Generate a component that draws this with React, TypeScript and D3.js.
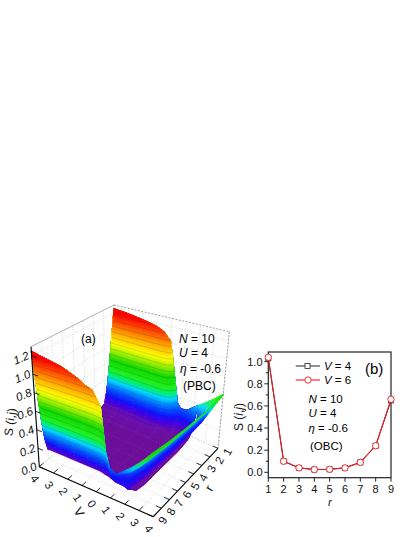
import React from "react";
import * as d3 from "d3";

// panel (a): S(V, r) surface
const vGrid = [-4, -3, -2, -1, -0.5, 0, 0.25, 0.5, 0.75, 1, 1.5, 2.24];
const rGrid = [1, 1.25, 1.5, 1.75, 2, 3, 4, 5, 6, 7, 8, 8.25, 8.5, 8.75, 9];
const sGrid = [
  [1.25, 0.85, 0.5, 0.24, 0.1, 0.05, 0.03, 0.03, 0.03, 0.05, 0.1, 0.24, 0.5, 0.85, 1.25],
  [1.23, 0.83, 0.49, 0.24, 0.1, 0.05, 0.03, 0.03, 0.03, 0.05, 0.1, 0.24, 0.49, 0.82, 1.21],
  [1.2, 0.81, 0.47, 0.23, 0.1, 0.05, 0.03, 0.03, 0.03, 0.05, 0.1, 0.23, 0.47, 0.79, 1.17],
  [1.16, 0.78, 0.45, 0.22, 0.1, 0.05, 0.03, 0.03, 0.03, 0.05, 0.1, 0.22, 0.44, 0.75, 1.1],
  [1.12, 0.75, 0.43, 0.21, 0.1, 0.05, 0.03, 0.03, 0.03, 0.05, 0.1, 0.21, 0.43, 0.72, 1.05],
  [1.03, 0.7, 0.41, 0.2, 0.09, 0.05, 0.03, 0.03, 0.03, 0.05, 0.09, 0.2, 0.4, 0.68, 1.02],
  [0.8, 0.56, 0.34, 0.18, 0.08, 0.04, 0.03, 0.03, 0.03, 0.04, 0.08, 0.18, 0.34, 0.58, 0.95],
  [0.55, 0.4, 0.27, 0.15, 0.07, 0.04, 0.03, 0.03, 0.03, 0.04, 0.07, 0.14, 0.26, 0.5, 0.88],
  [0.33, 0.26, 0.18, 0.12, 0.06, 0.04, 0.03, 0.03, 0.03, 0.04, 0.06, 0.1, 0.16, 0.28, 0.45],
  [0.27, 0.2, 0.14, 0.09, 0.06, 0.04, 0.03, 0.03, 0.03, 0.04, 0.06, 0.09, 0.12, 0.18, 0.3],
  [0.28, 0.2, 0.13, 0.09, 0.06, 0.04, 0.03, 0.03, 0.03, 0.04, 0.06, 0.09, 0.12, 0.16, 0.22],
  [0.38, 0.25, 0.14, 0.09, 0.07, 0.05, 0.05, 0.05, 0.05, 0.05, 0.07, 0.09, 0.12, 0.14, 0.16],
];

// the rising rim at large V: top edge and lower edge, station by station
const rimTopV = [0.9, 1.44, 2.56, 3.3, 4, 4, 4, 4, 4];
const rimTopR = [9, 9, 9, 9, 9, 7, 5, 3, 1];
const rimTopS = [0.3, 0.26, 0.39, 0.49, 0.6, 0.58, 0.57, 0.57, 0.6];
const rimLowV = [0.9, 1.2, 2.24, 2.3, 2.35, 2.4, 2.5, 2.56, 4];
const rimLowR = [9, 9, 9, 8, 7, 5, 2.6, 1, 1];
const rimLowS = [0.3, 0.19, 0.16, 0.14, 0.13, 0.13, 0.16, 0.19, 0.6];

// the r = 1 edge beyond the end of the grid
const backTopV = [2.24, 2.56, 4];
const backTopS = [0.38, 0.42, 0.6];
const backLowV = [2.24, 2.56, 4];
const backLowS = [0.19, 0.19, 0.6];

const colorS = [0, 0.08, 0.14, 0.2, 0.3, 0.38, 0.44, 0.5, 0.62, 0.72, 0.82, 0.95, 1.08, 1.2];
const colorC = ["#6f0c8c", "#6a10a8", "#4a00e0", "#1010ff", "#0070ff", "#00d8ff", "#00f070", "#20f020", "#10d800", "#90ee00", "#ffff00", "#ffb000", "#ff5000", "#ff0000"];

const vTicks = [-4, -3, -2, -1, 0, 1, 2, 3, 4];
const rTicks = [1, 2, 3, 4, 5, 6, 7, 8, 9];
const sTicks = [0, 0.2, 0.4, 0.6, 0.8, 1.0, 1.2];

// panel (b)
const rValues = [1, 2, 3, 4, 5, 6, 7, 8, 9];
const sV4 = [1.03, 0.1, 0.04, 0.025, 0.027, 0.04, 0.09, 0.24, 0.65];
const sV6 = [1.04, 0.1, 0.04, 0.025, 0.027, 0.04, 0.09, 0.24, 0.66];
const yTicksB = [0, 0.2, 0.4, 0.6, 0.8, 1.0];

const FONT = "'Liberation Sans', Arial, sans-serif";

type Pt = [number, number];
const lerp = (a: number, b: number, t: number) => a + (b - a) * t;
const lerpPt = (a: Pt, b: Pt, t: number): Pt => [lerp(a[0], b[0], t), lerp(a[1], b[1], t)];

// box corners in page pixels
const floorA: Pt = [39.3, 466.7];
const floorB: Pt = [153.3, 516.7];
const floorC: Pt = [218, 448.3];
const floorD: Pt = [114, 403.3];
const topA: Pt = [31, 346.7];
const topB: Pt = [151.7, 378.3];
const topC: Pt = [229.3, 331.7];
const topD: Pt = [114, 305];

const tV = d3.scaleLinear().domain([-4, 4]).range([0, 1]);
const uR = d3.scaleLinear().domain([9, 1]).range([0, 1]);
const zS = d3.scaleLinear().domain([0, 1.3]).range([0, 1]);

const project = (v: number, r: number, s: number): Pt => {
  const t = tV(v);
  const u = uR(r);
  const fl = lerpPt(lerpPt(floorA, floorB, t), lerpPt(floorD, floorC, t), u);
  const tp = lerpPt(lerpPt(topA, topB, t), lerpPt(topD, topC, t), u);
  return lerpPt(fl, tp, zS(s));
};

const color = d3.scaleLinear<string>().domain(colorS).range(colorC).interpolate(d3.interpolateRgb).clamp(true);

const nr = rGrid.length;
const nv = vGrid.length;
const rOfIndex = d3.scaleLinear().domain(d3.range(nr)).range(rGrid).clamp(true);
const vOfIndex = d3.scaleLinear().domain(d3.range(nv)).range(vGrid).clamp(true);
const flat = sGrid.flat();

const toPage = (p: number[], level: number): Pt =>
  project(vOfIndex(p[1] - 0.5), rOfIndex(p[0] - 0.5), level);

const sampleS = (x: number, y: number) => {
  const i = Math.max(0, Math.min(nr - 1, x - 0.5));
  const j = Math.max(0, Math.min(nv - 1, y - 0.5));
  const i0 = Math.min(nr - 2, Math.floor(i));
  const j0 = Math.min(nv - 2, Math.floor(j));
  const a = lerp(sGrid[j0][i0], sGrid[j0][i0 + 1], i - i0);
  const b = lerp(sGrid[j0 + 1][i0], sGrid[j0 + 1][i0 + 1], i - i0);
  return lerp(a, b, j - j0);
};

const fillLevels = d3.range(0.0, 1.3, 0.015);
const lineLevels = d3.range(0.12, 1.3, 0.07);
const contourGen = d3.contours().size([nr, nv]).smooth(true);

const ptsToPath = (pts: Pt[]) => "M" + pts.map((p) => p[0].toFixed(2) + "," + p[1].toFixed(2)).join("L") + "Z";

const fillBands = contourGen.thresholds([-1, ...fillLevels])(flat).map((c) => {
  const d = c.coordinates
    .map((poly) =>
      poly
        .map((ring) => ptsToPath(ring.map((p) => project(vOfIndex(p[1] - 0.5), rOfIndex(p[0] - 0.5), sampleS(p[0], p[1])))))
        .join("")
    )
    .join("");
  return { value: c.value, d };
});

const lineBands = contourGen.thresholds(lineLevels)(flat).map((c) => {
  let d = "";
  c.coordinates.forEach((poly) =>
    poly.forEach((ring) => {
      for (let k = 1; k < ring.length; k++) {
        const a = ring[k - 1];
        const b = ring[k];
        const inside = (p: number[]) => p[0] > 0 && p[0] < nr && p[1] > 0 && p[1] < nv;
        if (inside(a) && inside(b)) {
          const pa = toPage(a, c.value);
          const pb = toPage(b, c.value);
          d += `M${pa[0].toFixed(2)},${pa[1].toFixed(2)}L${pb[0].toFixed(2)},${pb[1].toFixed(2)}`;
        }
      }
    })
  );
  return { value: c.value, d };
});

// colour across the rim, from top edge (0) to lower edge (1), as share of the S drop
const rimEase = d3.scaleLinear().domain([0, 0.22, 0.3, 0.55, 1]).range([1, 0.85, 0.4, 0.2, 0]);

const patchQuads = (
  topPts: { v: number; r: number; s: number }[],
  lowPts: { v: number; r: number; s: number }[],
  ease: (f: number) => number,
  nBands: number,
  nSub: number
) => {
  const out: { d: string; fill: string }[] = [];
  for (let j = 1; j < topPts.length; j++) {
    for (let q = 0; q < nSub; q++) {
      const a0 = q / nSub;
      const a1 = (q + 1) / nSub;
      const atStation = (a: number) => {
        const t0 = project(lerp(topPts[j - 1].v, topPts[j].v, a), lerp(topPts[j - 1].r, topPts[j].r, a), lerp(topPts[j - 1].s, topPts[j].s, a));
        const l0 = project(lerp(lowPts[j - 1].v, lowPts[j].v, a), lerp(lowPts[j - 1].r, lowPts[j].r, a), lerp(lowPts[j - 1].s, lowPts[j].s, a));
        return { t0, l0, top: lerp(topPts[j - 1].s, topPts[j].s, a), low: lerp(lowPts[j - 1].s, lowPts[j].s, a) };
      };
      const A = atStation(a0);
      const B = atStation(a1);
      for (let k = 0; k < nBands; k++) {
        const f0 = k / nBands;
        const f1 = (k + 1) / nBands;
        const s = lerp(lerp(A.low, B.low, 0.5), lerp(A.top, B.top, 0.5), ease((f0 + f1) / 2));
        out.push({
          d: ptsToPath([lerpPt(A.t0, A.l0, f0), lerpPt(B.t0, B.l0, f0), lerpPt(B.t0, B.l0, f1), lerpPt(A.t0, A.l0, f1)]),
          fill: color(s),
        });
      }
    }
  }
  return out;
};

const backQuads = patchQuads(
  backTopV.map((v, i) => ({ v, r: 1, s: backTopS[i] })),
  backLowV.map((v, i) => ({ v, r: 1, s: backLowS[i] })),
  (f) => 1 - f,
  12,
  6
);
const rimQuads = patchQuads(
  rimTopV.map((v, i) => ({ v, r: rimTopR[i], s: rimTopS[i] })),
  rimLowV.map((v, i) => ({ v, r: rimLowR[i], s: rimLowS[i] })),
  (f) => rimEase(f),
  22,
  6
);

const line3 = (a: Pt, b: Pt) => `M${a[0]},${a[1]}L${b[0]},${b[1]}`;

// speckled mesh on the surface, along the whole-number grid lines
const meshPath = () => {
  let d = "";
  const wholeR = rGrid.map((r, i) => (Number.isInteger(r) ? i : -1)).filter((i) => i >= 0);
  wholeR.forEach((i) => {
    d += "M" + vGrid.map((v, j) => project(v, rGrid[i], sGrid[j][i]).map((n) => n.toFixed(2)).join(",")).join("L");
  });
  vGrid.forEach((v, j) => {
    if (!Number.isInteger(v)) return;
    d += "M" + rGrid.map((r, i) => project(v, r, sGrid[j][i]).map((n) => n.toFixed(2)).join(",")).join("L");
  });
  return d;
};

const PanelA = () => {
  return (
    <g fontFamily={FONT}>
      {/* walls and floor grid */}
      <g fill="none" stroke="#bdbdbd" strokeWidth={0.6} strokeDasharray="1 1.5">
        {vTicks.map((v) => (
          <path key={v} d={line3(project(v, 9, 0), project(v, 1, 0)) + line3(project(v, 1, 0), project(v, 1, 1.3))} />
        ))}
        {rTicks.map((r) => (
          <path key={r} d={line3(project(-4, r, 0), project(4, r, 0)) + line3(project(-4, r, 0), project(-4, r, 1.3))} />
        ))}
        {sTicks.map((s) => (
          <path key={s} d={line3(project(-4, 9, s), project(-4, 1, s)) + line3(project(-4, 1, s), project(4, 1, s))} />
        ))}
      </g>
      <path d={line3(topA, topD)} stroke="#9a9a9a" strokeWidth={0.8} fill="none" />
      <path d={line3(topD, topC) + line3(topC, floorC)} stroke="#777" strokeWidth={0.7} strokeDasharray="2 1.5" fill="none" />
      <path d={line3(topD, floorD)} stroke="#999" strokeWidth={0.6} strokeDasharray="1 1.5" fill="none" />

      {/* surface */}
      <g>
        {fillBands.map((b) => (
          <path key={b.value} d={b.d} fill={color(Math.max(0, b.value + 0.0075))} fillRule="evenodd" stroke={color(Math.max(0, b.value + 0.0075))} strokeWidth={0.3} />
        ))}
        <path d={meshPath()} fill="none" stroke="#fff" strokeOpacity={0.22} strokeWidth={0.5} strokeDasharray="1 2.5" />
        {lineBands.map((b) => (
          <path key={b.value} d={b.d} fill="none" stroke="#333" strokeOpacity={0.4} strokeWidth={0.5} />
        ))}
        {backQuads.map((q, i) => (
          <path key={i} d={q.d} fill={q.fill} stroke={q.fill} strokeWidth={0.3} />
        ))}
        {rimQuads.map((q, i) => (
          <path key={i} d={q.d} fill={q.fill} stroke={q.fill} strokeWidth={0.3} />
        ))}
      </g>

      {/* axes */}
      <g stroke="#000" fill="none">
        <path d={line3(floorA, floorB)} strokeWidth={1.1} />
        <path d={line3(floorB, floorC)} strokeWidth={1.1} />
        <path d={line3(floorA, topA)} strokeWidth={1.1} />
        {vTicks.map((v) => (
          <path key={v} d={line3(project(v, 9, 0), project(v, 8.55, 0))} strokeWidth={0.8} />
        ))}
        {rTicks.map((r) => (
          <path key={r} d={line3(project(4, r, 0), project(3.6, r, 0))} strokeWidth={0.8} />
        ))}
        {sTicks.map((s) => (
          <path key={s} d={line3(project(-4, 9, s), project(-3.65, 9, s))} strokeWidth={0.8} />
        ))}
      </g>
      <g fontSize={11.5} fill="#111">
        {sTicks.map((s) => {
          const p = project(-4, 9, s);
          return (
            <text key={s} transform={`translate(${p[0] - 10.5},${p[1] + 2}) rotate(-22)`} textAnchor="middle" dy=".35em" fontStyle="italic">
              {s.toFixed(1)}
            </text>
          );
        })}
        {vTicks.map((v) => {
          const p = project(v, 9, 0);
          return (
            <text key={v} transform={`translate(${p[0] - 4.5},${p[1] + 12}) rotate(55)`} textAnchor="middle" dy=".35em">
              {Math.abs(v)}
            </text>
          );
        })}
        {rTicks.map((r) => {
          const p = project(4, r, 0);
          return (
            <text key={r} transform={`translate(${p[0] + 9.5},${p[1] + 3.5}) rotate(-62)`} textAnchor="middle" dy=".35em">
              {r}
            </text>
          );
        })}
      </g>
      <text transform="translate(10,422) rotate(-82)" fontSize={12} textAnchor="middle" dy=".35em" fill="#111">
        S (i,j)
      </text>
      <text transform="translate(79,512) rotate(60)" fontSize={12.5} textAnchor="middle" dy=".35em" fill="#111">V</text>
      <text transform="translate(209,488) rotate(-60)" fontSize={12.5} textAnchor="middle" dy=".35em" fill="#111">r</text>

      <g fontSize={12} fill="#000">
        <text x={81} y={343}>(a)</text>
        <text x={179} y={343}><tspan fontStyle="italic">N</tspan> = 10</text>
        <text x={179} y={357}><tspan fontStyle="italic">U</tspan> = 4</text>
        <text x={180} y={373}><tspan fontStyle="italic">η</tspan> = -0.6</text>
        <text x={183} y={390}>(PBC)</text>
      </g>
    </g>
  );
};

const PanelB = () => {
  const x = d3.scaleLinear().domain([1, 9]).range([268.3, 391]);
  const y = d3.scaleLinear().domain([0, 1]).range([472.3, 361.7]);
  const plotTop = 352;
  const plotBottom = 477.7;
  const line = d3
    .line<number>()
    .x((_, i) => x(rValues[i]))
    .y((d) => y(d));
  const yMinor = d3.range(0, 1.01, 0.1);
  return (
    <g fontFamily={FONT}>
      <rect x={x(1)} y={plotTop} width={x(9) - x(1)} height={plotBottom - plotTop} fill="none" stroke="#222" strokeWidth={1.2} />
      {rValues.map((r) => (
        <path key={r} d={`M${x(r)},${plotBottom}v4`} stroke="#222" strokeWidth={1} />
      ))}
      {yMinor.map((v, i) => (
        <path key={i} d={`M${x(1)},${y(v)}h${i % 2 === 0 ? -4 : -2.5}`} stroke="#222" strokeWidth={1} />
      ))}
      <g fontSize={11} fill="#111">
        {rValues.map((r) => (
          <text key={r} x={x(r)} y={493} textAnchor="middle">{r}</text>
        ))}
        {yTicksB.map((v) => (
          <text key={v} x={262.5} y={y(v) + 4} textAnchor="end">{v.toFixed(1)}</text>
        ))}
      </g>
      <text transform="translate(243,417) rotate(-90)" fontSize={12} textAnchor="middle" fill="#111">
        S (<tspan fontStyle="italic">i</tspan>,<tspan fontStyle="italic">j</tspan>)
      </text>
      <text x={330} y={505.5} fontSize={11.5} fontStyle="italic" textAnchor="middle" fill="#111">r</text>

      <path d={line(sV4) ?? ""} fill="none" stroke="#222" strokeWidth={1} />
      {sV4.map((v, i) => (
        <rect key={i} x={x(rValues[i]) - 2.5} y={y(v) - 2.5} width={5} height={5} fill="none" stroke="#222" strokeWidth={0.8} />
      ))}
      <path d={line(sV6) ?? ""} fill="none" stroke="#ee1c25" strokeWidth={1.1} />
      {sV6.map((v, i) => (
        <circle key={i} cx={x(rValues[i])} cy={y(v)} r={3.2} fill="#fff" stroke="#ee1c25" strokeWidth={0.9} />
      ))}

      <path d="M295.7,366h24.3" stroke="#222" strokeWidth={1} />
      <rect x={305} y={363.5} width={5} height={5} fill="#fff" stroke="#222" strokeWidth={0.8} />
      <path d="M295.7,380h24.3" stroke="#ee1c25" strokeWidth={1.1} />
      <circle cx={308} cy={380} r={3.2} fill="#fff" stroke="#ee1c25" strokeWidth={0.9} />
      <g fontSize={11.5} fill="#000">
        <text x={324} y={370}><tspan fontStyle="italic">V</tspan> = 4</text>
        <text x={324} y={384}><tspan fontStyle="italic">V</tspan> = 6</text>
        <text x={308.5} y={403}><tspan fontStyle="italic">N</tspan> = 10</text>
        <text x={308.5} y={417}><tspan fontStyle="italic">U</tspan> = 4</text>
        <text x={308.5} y={432}><tspan fontStyle="italic">η</tspan> = -0.6</text>
        <text x={310} y={450}>(OBC)</text>
      </g>
      <text x={365} y={374} fontSize={15} fill="#000">(b)</text>
    </g>
  );
};

export default function App() {
  return (
    <svg width={415} height={537} style={{ position: "absolute", left: 0, top: 0, background: "#fff" }}>
      <PanelA />
      <PanelB />
    </svg>
  );
}
